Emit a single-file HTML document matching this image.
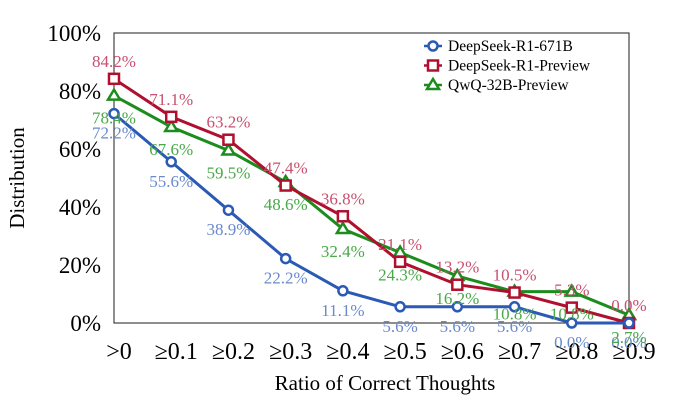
<!DOCTYPE html>
<html><head><meta charset="utf-8">
<style>
html,body{margin:0;padding:0;background:#fff;}
svg{display:block;font-family:"Liberation Serif",serif;}
</style></head>
<body>
<svg id="chart" width="694" height="418">
<rect x="114" y="33" width="515" height="290" fill="none" stroke="#444" stroke-width="1.2"/>
<g id="yt"></g><g id="xt"></g><g id="series"></g>
<text x="385" y="390" font-size="21" text-anchor="middle">Ratio of Correct Thoughts</text>
<text x="24" y="178" font-size="21" text-anchor="middle" transform="rotate(-90 24 178)">Distribution</text>
<g id="legend"></g>
</svg>
<script>
const categories = [">0","≥0.1","≥0.2","≥0.3","≥0.4","≥0.5","≥0.6","≥0.7","≥0.8","≥0.9"];
const yTicks = [0,20,40,60,80,100];
const seriesNames = ["DeepSeek-R1-671B","DeepSeek-R1-Preview","QwQ-32B-Preview"];
const blueValues = [72.2,55.6,38.9,22.2,11.1,5.6,5.6,5.6,0.0,0.0];
const redValues = [84.2,71.1,63.2,47.4,36.8,21.1,13.2,10.5,5.3,0.0];
const greenValues = [78.4,67.6,59.5,48.6,32.4,24.3,16.2,10.8,10.8,2.7];

const NS="http://www.w3.org/2000/svg";
const X0=114,X1=629,Y0=323,Y1=33;
const xs=i=>X0+i*(X1-X0)/(categories.length-1);
const ys=v=>Y0-v/100*(Y0-Y1);
function mk(tag,attrs,parent){const e=document.createElementNS(NS,tag);for(const k in attrs)e.setAttribute(k,attrs[k]);parent.appendChild(e);return e;}
const yt=document.getElementById('yt');
yTicks.forEach(t=>{
  const e=mk('text',{x:101,y:ys(t)+8,'font-size':23,'text-anchor':'end'},yt);
  e.textContent=t+'%';
  
  
});
const xt=document.getElementById('xt');
categories.forEach((c,i)=>{
  const e=mk('text',{x:xs(i)+5,y:359,'font-size':24,'text-anchor':'middle'},xt);
  e.textContent=c;
  
  
});
const cfg=[
 {vals:blueValues,line:'#2a5ab5',lab:'#6a8acb',marker:'circle',off:25,name:'blue'},
 {vals:redValues,line:'#b01030',lab:'#c85070',marker:'square',off:-12,name:'red'},
 {vals:greenValues,line:'#1c8c1c',lab:'#4aa84a',marker:'triangle',off:28,name:'green'}
];
const sg=document.getElementById('series');
function marker(type,x,y,color,parent){
  let e;
  if(type==='circle')e=mk('circle',{cx:x,cy:y,r:4.5,fill:'#fff',stroke:color,'stroke-width':2.5},parent);
  else if(type==='square')e=mk('rect',{x:x-5,y:y-5,width:10,height:10,fill:'#fff',stroke:color,'stroke-width':2.5},parent);
  else e=mk('polygon',{points:`${x},${y-6} ${x-6},${y+4} ${x+6},${y+4}`,fill:'#fff',stroke:color,'stroke-width':2.5},parent);
  return e;
}
[2,1,0].forEach(k=>{
  const s=cfg[k];
  const g=mk('g',{},sg);
  
  
  const pts=s.vals.map((v,i)=>xs(i)+','+ys(v)).join(' ');
  const pl=mk('polyline',{points:pts,fill:'none',stroke:s.line,'stroke-width':3},g);
  
  
  s.vals.forEach((v,i)=>{
    const m=marker(s.marker,xs(i),ys(v),s.line,g);
    
    
  });
});
cfg.forEach(s=>{
  s.vals.forEach((v,i)=>{
    const t=mk('text',{x:xs(i),y:ys(v)+s.off,'font-size':17,'text-anchor':'middle',fill:s.lab},sg);
    t.textContent=v.toFixed(1)+'%';
    
    
  });
});
const lg=document.getElementById('legend');
[0,1,2].forEach(k=>{
  const s=cfg[k];const y=46+k*19.5;
  const l=mk('line',{x1:424,y1:y,x2:442,y2:y,stroke:s.line,'stroke-width':2.5},lg);
  
  
  const m=marker(s.marker,433,y,s.line,lg);
  
  
  const t=mk('text',{x:448,y:y+5,'font-size':15.5},lg);
  t.textContent=seriesNames[k];
  
  
});
</script>
</body></html>
